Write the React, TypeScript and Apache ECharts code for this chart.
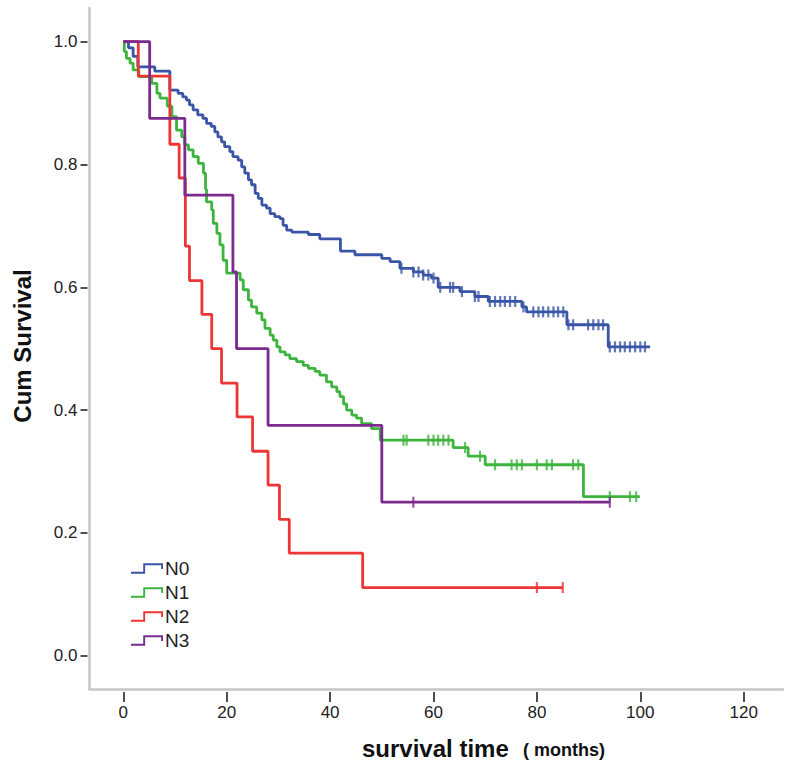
import React, { useEffect, useRef } from "react";
import * as echarts from "echarts";

const groupNames = ["N0", "N1", "N2", "N3"];
const groupColors = ["#3a55a6", "#3db43d", "#ee3535", "#7b2a8e"];

const xTicks = [0, 20, 40, 60, 80, 100, 120];
const yTicks = [0, 0.2, 0.4, 0.6, 0.8, 1.0];

// N0 step points (time in months, cumulative survival after the step)
const n0Times = [0, 1.0, 1.9, 2.8, 6.1, 9.0, 10.6, 11.5, 12.2, 12.8, 13.5, 14.4, 15.4, 16.1, 17.0, 17.7, 18.3, 19.0, 19.6, 20.6, 21.2, 22.2, 22.9, 23.5, 24.2, 24.8, 25.5, 26.1, 26.8, 27.7, 28.4, 29.3, 30.3, 30.9, 31.6, 32.6, 35.8, 38.0, 42.0, 44.8, 50.0, 51.6, 53.5, 56.1, 58.0, 59.6, 60.9, 65.1, 68.0, 70.6, 77.1, 78.0, 85.8, 93.8, 101.9];
const n0Surv = [1, 0.990, 0.976, 0.959, 0.952, 0.921, 0.916, 0.910, 0.905, 0.897, 0.889, 0.881, 0.875, 0.867, 0.862, 0.853, 0.845, 0.837, 0.829, 0.821, 0.813, 0.807, 0.796, 0.786, 0.775, 0.767, 0.753, 0.745, 0.734, 0.729, 0.720, 0.715, 0.712, 0.701, 0.693, 0.690, 0.686, 0.679, 0.659, 0.653, 0.647, 0.642, 0.631, 0.625, 0.620, 0.615, 0.600, 0.593, 0.585, 0.577, 0.568, 0.560, 0.539, 0.503, 0.503];
const n0Censored = [53.8, 56.1, 57.1, 58.0, 59.0, 60.0, 61.3, 63.2, 63.8, 65.5, 68.0, 68.7, 70.9, 71.9, 72.9, 73.8, 74.8, 75.8, 77.4, 79.3, 80.3, 81.2, 82.2, 83.2, 84.1, 85.1, 86.1, 87.0, 89.9, 90.9, 91.9, 92.8, 94.1, 95.1, 96.1, 97.0, 98.0, 99.0, 100.0, 100.9];

// N1
const n1Times = [0, 0.2, 0.6, 1.3, 1.9, 3.0, 5.5, 6.5, 7.1, 8.5, 9.4, 10.3, 11.3, 11.9, 12.6, 13.5, 14.5, 15.5, 15.9, 16.1, 17.1, 17.4, 18.1, 18.7, 19.3, 20.0, 22.6, 23.2, 24.2, 24.8, 25.8, 26.8, 27.4, 28.4, 29.0, 29.7, 30.3, 31.3, 32.2, 33.5, 34.8, 35.8, 37.1, 38.0, 39.3, 40.3, 41.3, 41.9, 42.6, 43.2, 44.2, 45.1, 46.1, 48.0, 49.7, 63.8, 66.7, 70.0, 89.0, 99.9];
const n1Surv = [1, 0.984, 0.973, 0.965, 0.954, 0.943, 0.932, 0.916, 0.908, 0.895, 0.878, 0.856, 0.845, 0.832, 0.824, 0.813, 0.802, 0.786, 0.760, 0.739, 0.726, 0.704, 0.688, 0.669, 0.644, 0.623, 0.612, 0.596, 0.579, 0.568, 0.558, 0.547, 0.533, 0.522, 0.514, 0.503, 0.495, 0.490, 0.484, 0.479, 0.473, 0.468, 0.463, 0.457, 0.446, 0.438, 0.430, 0.422, 0.410, 0.400, 0.392, 0.387, 0.378, 0.370, 0.351, 0.339, 0.325, 0.311, 0.259, 0.259];
const n1Censored = [54.2, 54.8, 59.0, 60.0, 60.9, 61.9, 62.9, 66.1, 69.0, 71.9, 75.1, 76.1, 77.1, 80.0, 81.9, 82.9, 87.0, 88.0, 94.1, 98.0, 99.2];

// N2
const n2Times = [0, 2.9, 9.0, 10.8, 12.0, 12.8, 15.2, 17.1, 19.0, 22.0, 25.0, 28.0, 30.2, 32.1, 46.3, 85.0];
const n2Surv = [1, 0.944, 0.833, 0.778, 0.667, 0.611, 0.556, 0.500, 0.444, 0.389, 0.333, 0.278, 0.222, 0.167, 0.111, 0.111];
const n2Censored = [80.0, 85.0];

// N3
const n3Times = [0, 5.1, 11.9, 21.2, 21.9, 28.0, 50.0, 94.1];
const n3Surv = [1, 0.875, 0.75, 0.625, 0.5, 0.375, 0.25, 0.25];
const n3Censored = [56.1, 94.1];

const FONT = '"Liberation Sans", Arial, Helvetica, sans-serif';
const X_MIN = -6.54;
const X_MAX = 127.6;
const Y_MIN = -0.0542;
const Y_MAX = 1.0549;

const LEGEND_ICON = "path://M0,9 L13,9 L13,0 L34,0 L34,6 L32,6 L32,2 L15,2 L15,11 L0,11 Z";

function survAt(times: number[], surv: number[], t: number): number {
  let s = surv[0];
  for (let i = 0; i < times.length; i++) {
    if (times[i] <= t) s = surv[i];
  }
  return s;
}

export default function App() {
  const ref = useRef<HTMLDivElement>(null);

  useEffect(() => {
    if (!ref.current) return;
    const chart = echarts.init(ref.current, null, { renderer: "svg" });

    const groups = [
      { times: n0Times, surv: n0Surv, cens: n0Censored },
      { times: n1Times, surv: n1Surv, cens: n1Censored },
      { times: n2Times, surv: n2Surv, cens: n2Censored },
      { times: n3Times, surv: n3Surv, cens: n3Censored },
    ];

    const lineSeries = groups.map((g, i) => ({
      name: groupNames[i],
      type: "line",
      step: "end",
      showSymbol: false,
      symbol: "none",
      silent: true,
      z: 2 + i,
      data: g.times.map((t, k) => [t, g.surv[k]]),
      lineStyle: { color: groupColors[i], width: 2.8 },
      itemStyle: { color: groupColors[i] },
    }));

    const censorSeries = groups.map((g, i) => ({
      name: groupNames[i] + " censored",
      type: "scatter",
      symbol: "rect",
      symbolSize: [2.2, 11],
      silent: true,
      z: 10 + i,
      data: g.cens.map((t) => [t, survAt(g.times, g.surv, t)]),
      itemStyle: { color: groupColors[i] },
    }));

    chart.setOption({
      animation: false,
      backgroundColor: "#ffffff",
      grid: { left: 89.5, top: 8, right: 6, bottom: 91, containLabel: false },
      legend: {
        orient: "vertical",
        left: 126,
        top: 554,
        itemWidth: 32,
        itemHeight: 11,
        itemGap: 5,
        data: groupNames.map((n) => ({ name: n, icon: LEGEND_ICON })),
        textStyle: { fontSize: 19, color: "#222", fontFamily: FONT, lineHeight: 19, padding: [0, 0, 0, -3] },
        selectedMode: false,
      },
      xAxis: [
        {
          type: "value",
          min: X_MIN,
          max: X_MAX,
          position: "bottom",
          axisLine: { show: true, onZero: false, lineStyle: { color: "#c6c6c6", width: 2.5 } },
          axisTick: { show: false },
          axisLabel: { show: false },
          splitLine: { show: false },
        },
        {
          type: "value",
          min: X_MIN,
          max: X_MAX,
          position: "bottom",
          offset: 3,
          axisLine: { show: false, onZero: false },
          axisTick: { show: true, length: 10, lineStyle: { color: "#222", width: 1.6 }, customValues: xTicks },
          axisLabel: { show: true, customValues: xTicks, margin: 12, fontSize: 17, color: "#222", fontFamily: FONT },
          splitLine: { show: false },
        },
      ],
      yAxis: [
        {
          type: "value",
          min: Y_MIN,
          max: Y_MAX,
          position: "left",
          axisLine: { show: true, onZero: false, lineStyle: { color: "#c6c6c6", width: 2.5 } },
          axisTick: { show: false },
          axisLabel: { show: false },
          splitLine: { show: false },
        },
        {
          type: "value",
          min: Y_MIN,
          max: Y_MAX,
          position: "left",
          offset: 2,
          axisLine: { show: false, onZero: false },
          axisTick: { show: true, length: 7, lineStyle: { color: "#222", width: 1.6 }, customValues: yTicks },
          axisLabel: {
            show: true,
            customValues: yTicks,
            margin: 10,
            fontSize: 17,
            color: "#222",
            fontFamily: FONT,
            formatter: (v: number) => v.toFixed(1),
          },
          splitLine: { show: false },
        },
      ],
      graphic: [
        {
          type: "text",
          x: 22,
          y: 346,
          rotation: Math.PI / 2,
          style: {
            text: "Cum Survival",
            fontSize: 24,
            fontWeight: "bold",
            fontFamily: FONT,
            fill: "#111",
            align: "center",
            verticalAlign: "middle",
          },
        },
        {
          type: "text",
          x: 362,
          y: 748,
          style: {
            text: "survival time",
            fontSize: 24,
            fontWeight: "bold",
            fontFamily: FONT,
            fill: "#111",
            align: "left",
            verticalAlign: "middle",
          },
        },
        {
          type: "text",
          x: 523,
          y: 750,
          style: {
            text: "( months)",
            fontSize: 18,
            fontWeight: "bold",
            fontFamily: FONT,
            fill: "#111",
            align: "left",
            verticalAlign: "middle",
          },
        },
      ],
      series: [...lineSeries, ...censorSeries],
    });

    return () => {
      chart.dispose();
    };
  }, []);

  return (
    <div
      ref={ref}
      style={{ position: "absolute", left: 0, top: 0, width: 789, height: 780 }}
    />
  );
}
